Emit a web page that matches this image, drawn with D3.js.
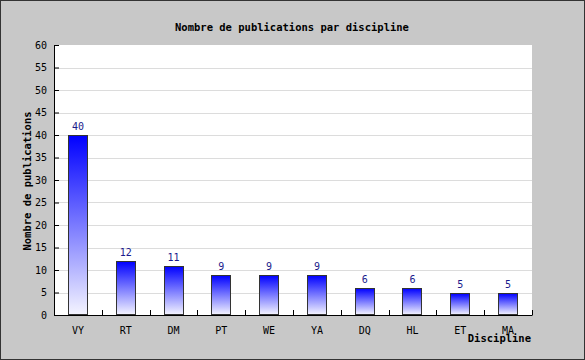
<!DOCTYPE html>
<html>
  <head>
    <meta charset="utf-8">
    <title>Publications</title>
    <style>
      body{margin:0;}
      svg{display:block; font-family:"DejaVu Sans Mono", monospace;}
    </style>
    <script src="https://d3js.org/d3.v7.min.js"></script>
  </head>
  <body>
    <script>

        var disciplines = ["VY", "RT", "DM", "PT", "WE", "YA", "DQ", "HL", "ET", "MA"];
        var publications = [40, 12, 11, 9, 9, 9, 6, 6, 5, 5];
        var yTicks = [0, 5, 10, 15, 20, 25, 30, 35, 40, 45, 50, 55, 60];

        var width = 585, height = 360;
        var plotL = 54, plotR = 532, plotT = 45, plotB = 315;

        var svg = d3.select("body").append("svg")
            .attr("width", width)
            .attr("height", height);

        // gradient for bars: blue at top to white at bottom
        var grad = svg.append("defs").append("linearGradient")
            .attr("id", "barGrad")
            .attr("x1", 0).attr("y1", 0).attr("x2", 0).attr("y2", 1);
        grad.append("stop").attr("offset", "0%").attr("stop-color", "#0000ff");
        grad.append("stop").attr("offset", "100%").attr("stop-color", "#f4f4ff");

        svg.append("rect")
            .attr("x", 0.5).attr("y", 0.5)
            .attr("width", width - 1).attr("height", height - 1)
            .attr("fill", "#c8c8c8")
            .attr("stroke", "#333").attr("stroke-width", 1);

        svg.append("rect")
            .attr("x", plotL).attr("y", plotT)
            .attr("width", plotR - plotL).attr("height", plotB - plotT)
            .attr("fill", "#fff");

        var x = d3.scaleBand().domain(disciplines).range([plotL, plotR]);
        var y = d3.scaleLinear().domain([0, 60]).range([plotB, plotT]);

        // grid lines
        svg.selectAll(".grid").data(yTicks.slice(1, -1))
            .enter().append("line")
            .attr("x1", plotL).attr("x2", plotR)
            .attr("y1", function (d) { return Math.round(y(d)) + 0.5; })
            .attr("y2", function (d) { return Math.round(y(d)) + 0.5; })
            .attr("stroke", "#dcdcdc");

        // bars
        var bw = 20;
        svg.selectAll(".bar").data(publications)
            .enter().append("rect")
            .attr("x", function (d, i) { return Math.round(x(disciplines[i]) + x.bandwidth() / 2 - bw / 2) + 0.5; })
            .attr("y", function (d) { return Math.round(y(d)) + 0.5; })
            .attr("width", bw - 1)
            .attr("height", function (d) { return plotB - Math.round(y(d)) - 1; })
            .attr("fill", "url(#barGrad)")
            .attr("stroke", "#333");

        svg.selectAll(".val").data(publications)
            .enter().append("text")
            .attr("x", function (d, i) { return x(disciplines[i]) + x.bandwidth() / 2; })
            .attr("y", function (d) { return y(d) - 5; })
            .attr("text-anchor", "middle")
            .attr("font-size", "10px")
            .attr("fill", "#1a1a8c")
            .text(function (d) { return d; });

        // y axis
        var yAxis = d3.axisRight(y).tickValues(yTicks).tickSize(5).tickFormat("");
        svg.append("g").attr("transform", "translate(" + plotL + ",0)").call(yAxis)
            .call(function (g) { g.selectAll("line,path").attr("stroke", "#000"); });
        svg.selectAll(".ylab").data(yTicks)
            .enter().append("text")
            .attr("x", 47)
            .attr("y", function (d) { return y(d) + 3.5; })
            .attr("text-anchor", "end")
            .attr("font-size", "10px")
            .text(function (d) { return d; });

        // x axis
        var xAxis = d3.axisTop(x).tickSize(0).tickFormat("");
        svg.append("g").attr("transform", "translate(0," + plotB + ")").call(xAxis)
            .call(function (g) { g.select("path").attr("stroke", "#000"); });
        svg.selectAll(".xtick").data(disciplines)
            .enter().append("line")
            .attr("x1", function (d) { return Math.round(x(d) + x.bandwidth()) + 0.5; })
            .attr("x2", function (d) { return Math.round(x(d) + x.bandwidth()) + 0.5; })
            .attr("y1", plotB).attr("y2", plotB - 5)
            .attr("stroke", "#000");
        svg.selectAll(".xlab").data(disciplines)
            .enter().append("text")
            .attr("x", function (d) { return x(d) + x.bandwidth() / 2; })
            .attr("y", 334)
            .attr("text-anchor", "middle")
            .attr("font-size", "10px")
            .text(function (d) { return d; });

        // titles
        svg.append("text")
            .attr("x", 292).attr("y", 31)
            .attr("text-anchor", "middle")
            .attr("font-size", "10.5px").attr("font-weight", "bold")
            .text("Nombre de publications par discipline");

        svg.append("text")
            .attr("transform", "translate(31,181) rotate(-90)")
            .attr("text-anchor", "middle")
            .attr("font-size", "10.5px").attr("font-weight", "bold")
            .text("Nombre de publications");

        svg.append("text")
            .attr("x", 531).attr("y", 342)
            .attr("text-anchor", "end")
            .attr("font-size", "10.5px").attr("font-weight", "bold")
            .text("Discipline");

    </script>
  </body>
</html>
